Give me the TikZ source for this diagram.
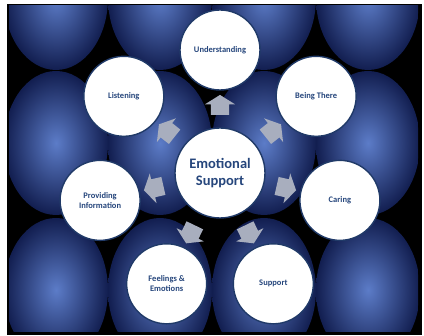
\documentclass[tikz,border=0pt]{standalone}
\usepackage{fontspec}
\setmainfont{Carlito}
\usetikzlibrary{shapes.arrows,calc}
\definecolor{ballin}{RGB}{92,124,200}
\definecolor{ballout}{RGB}{18,30,80}
\definecolor{rimblue}{RGB}{32,58,104}
\definecolor{labelblue}{RGB}{38,70,124}
\definecolor{arrowgray}{RGB}{168,174,190}

\begin{document}
\begin{tikzpicture}[
    x=1pt, y=1pt,
    every node/.style={circle, draw=rimblue, line width=1.4pt, fill=white, align=center, text=labelblue, font=\bfseries\fontsize{8.5}{10}\selectfont},
    leaf/.style={minimum size=80pt, inner sep=1pt},
    hub/.style={minimum size=90pt, font=\bfseries\fontsize{14.5}{16.5}\selectfont},
    push/.style={single arrow, draw=none, fill=arrowgray, minimum height=20pt, minimum width=29pt, single arrow head extend=6pt, single arrow tip angle=116, inner xsep=0pt, inner ysep=8.5pt}
]
    \useasboundingbox (0,0) rectangle (424,336);

    % Frame and background balls
    \fill[black] (7,1) rectangle (422,332);
    \begin{scope}
        \clip (9,4) rectangle (418,330);
        \foreach \cx in {56,160,264,368}
            \foreach \cy in {338,193,46}
                \shade[inner color=ballin, outer color=ballout] (\cx,\cy) ellipse (52 and 72);
    \end{scope}

    % Nodes
    \node[hub] (Emotional) at (220,163) {Emotional\\Support};
    \node[leaf] (Understanding) at ($(Emotional)+(90:123)$) {Understanding};
    \node[leaf] (BeingThere) at ($(Emotional)+(38.57:123)$) {Being There};
    \node[leaf] (Caring) at ($(Emotional)+(-12.86:123)$) {Caring};
    \node[leaf] (Support) at ($(Emotional)+(-64.29:123)$) {Support};
    \node[leaf] (Feelings) at ($(Emotional)+(-115.71:123)$) {Feelings \&\\Emotions};
    \node[leaf] (Providing) at ($(Emotional)+(-167.14:123)$) {Providing\\Information};
    \node[leaf] (Listening) at ($(Emotional)+(141.43:123)$) {Listening};

    % Arrows
    \foreach \name/\ang in {Understanding/90, BeingThere/38.57, Caring/-12.86, Support/-64.29, Feelings/-115.71, Providing/-167.14, Listening/141.43}
        \node[push, rotate=\ang] (to\name) at ($(Emotional)!0.53!(\name)$) {};
\end{tikzpicture}
\end{document}
